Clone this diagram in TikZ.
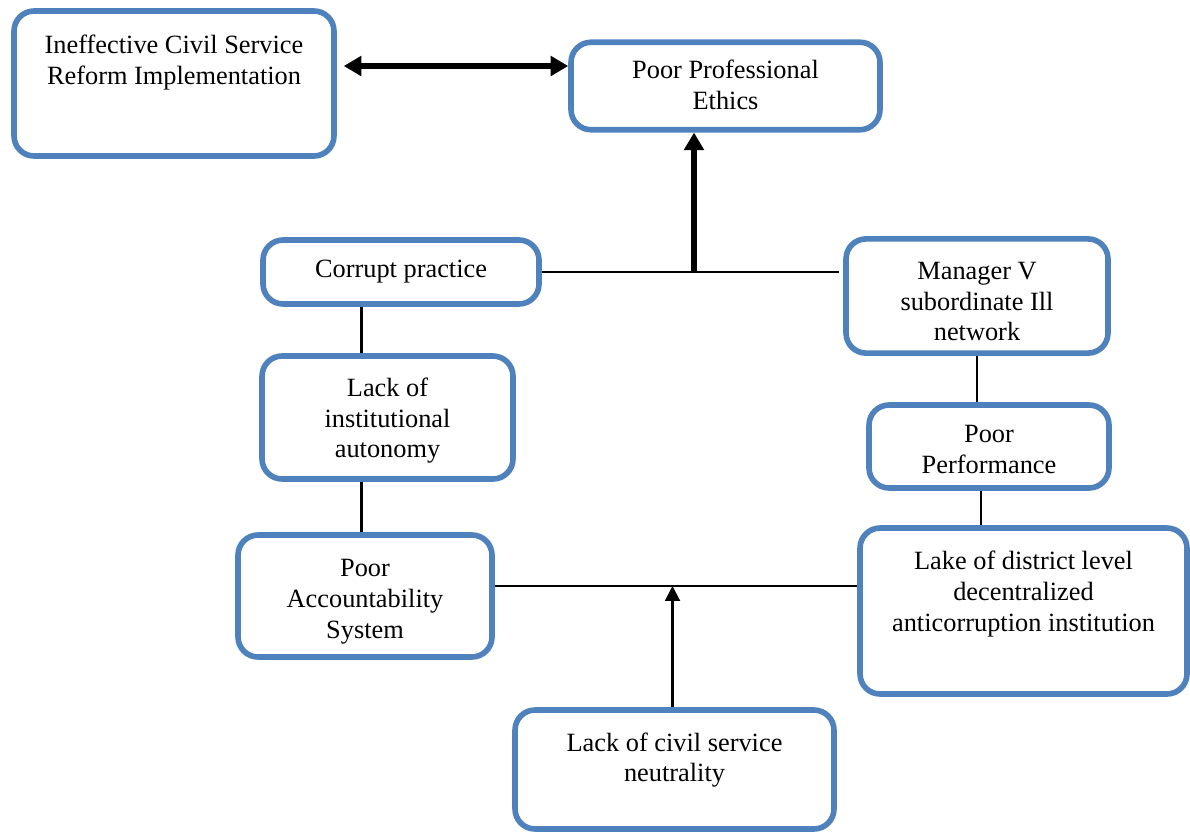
\documentclass[tikz,border=0pt]{standalone}
\usepackage{fontspec}
\setmainfont{Liberation Serif}
\usepackage{xcolor}
\usepackage{tikz}
\usetikzlibrary{shapes,arrows.meta}
\definecolor{boxblue}{RGB}{79,129,189}
\tikzstyle{block} = [rectangle, draw=boxblue, line width=3.2pt, fill=white, align=center, rounded corners=0.4cm,
    inner sep=2pt, text depth=5pt, font=\fontsize{15}{17.5}\selectfont]
\tikzstyle{line} = [draw, line width=1.4pt]
\tikzstyle{bigarrow} = [draw, line width=3.4pt, -{Triangle[length=10pt,width=11pt]}]
\tikzstyle{twoway} = [draw, line width=3.4pt, {Triangle[length=10pt,width=11pt]}-{Triangle[length=10pt,width=11pt]}]
\tikzstyle{smallarrow} = [draw, line width=1.2pt, -{Triangle[length=8.5pt,width=8.5pt]}]

\begin{document}
\begin{tikzpicture}[x=0.02cm,y=-0.02cm]
    \useasboundingbox (0,0) rectangle (1190,832);

      \node [block, minimum width=6.4cm, minimum height=2.9cm, text height=5.6pt] (ineff) at (174,83.5)
          {Ineffective Civil Service\\Reform Implementation};
      \node [block, minimum width=6.18cm, minimum height=1.75cm, text height=32pt] (ethics) at (725.5,86) {Poor Professional\\Ethics};
      \node [block, minimum width=5.52cm, minimum height=1.28cm, text height=10.7pt] (corrupt) at (401,272) {Corrupt practice};
      \node [block, minimum width=5.24cm, minimum height=2.28cm, text height=56pt] (manager) at (977,296) {Manager V\\subordinate Ill\\network};
      \node [block, minimum width=5.02cm, minimum height=2.46cm, text height=51pt] (autonomy) at (387.5,417.5) {Lack of\\institutional\\autonomy};
      \node [block, minimum width=4.8cm, minimum height=1.66cm, text height=36pt] (perform) at (989,446.5) {Poor\\Performance};
      \node [block, minimum width=5.08cm, minimum height=2.44cm, text height=52.8pt] (account) at (365,596) {Poor\\Accountability\\System};
      \node [block, minimum width=6.54cm, minimum height=3.32cm, text height=27.8pt] (lake) at (1023.5,611)
          {Lake of district level\\decentralized\\anticorruption institution};
      \node [block, minimum width=6.38cm, minimum height=2.38cm, text height=19.2pt] (neutral) at (674.5,769.5)
          {Lack of civil service\\neutrality};

      % junctions
      \coordinate (twin) at (0,66);
      \coordinate (jtop) at (694,272.5);
      \coordinate (jbot) at (672.5,586);
      \coordinate (leftx) at (361.5,0);
      \coordinate (rightx) at (981,0);

      \path [twoway, shorten <=0.14cm] (ineff.east |- twin) -- (ethics.west |- twin);
      \path [line, shorten >=0.08cm] (corrupt.east) -- (corrupt.east -| manager.west);
      \path [bigarrow] (jtop) -- (jtop |- ethics.south);

      \path [line] (corrupt.south -| leftx) -- (autonomy.north -| leftx);
      \path [line] (autonomy.south -| leftx) -- (account.north -| leftx);
      \path [line] (manager.south) -- (manager.south |- perform.north);
      \path [line] (perform.south -| rightx) -- (lake.north -| rightx);

      \path [line] (account.east |- jbot) -- (lake.west |- jbot);
      \path [smallarrow] (neutral.north -| jbot) -- (jbot);

    \end{tikzpicture}
\end{document}
